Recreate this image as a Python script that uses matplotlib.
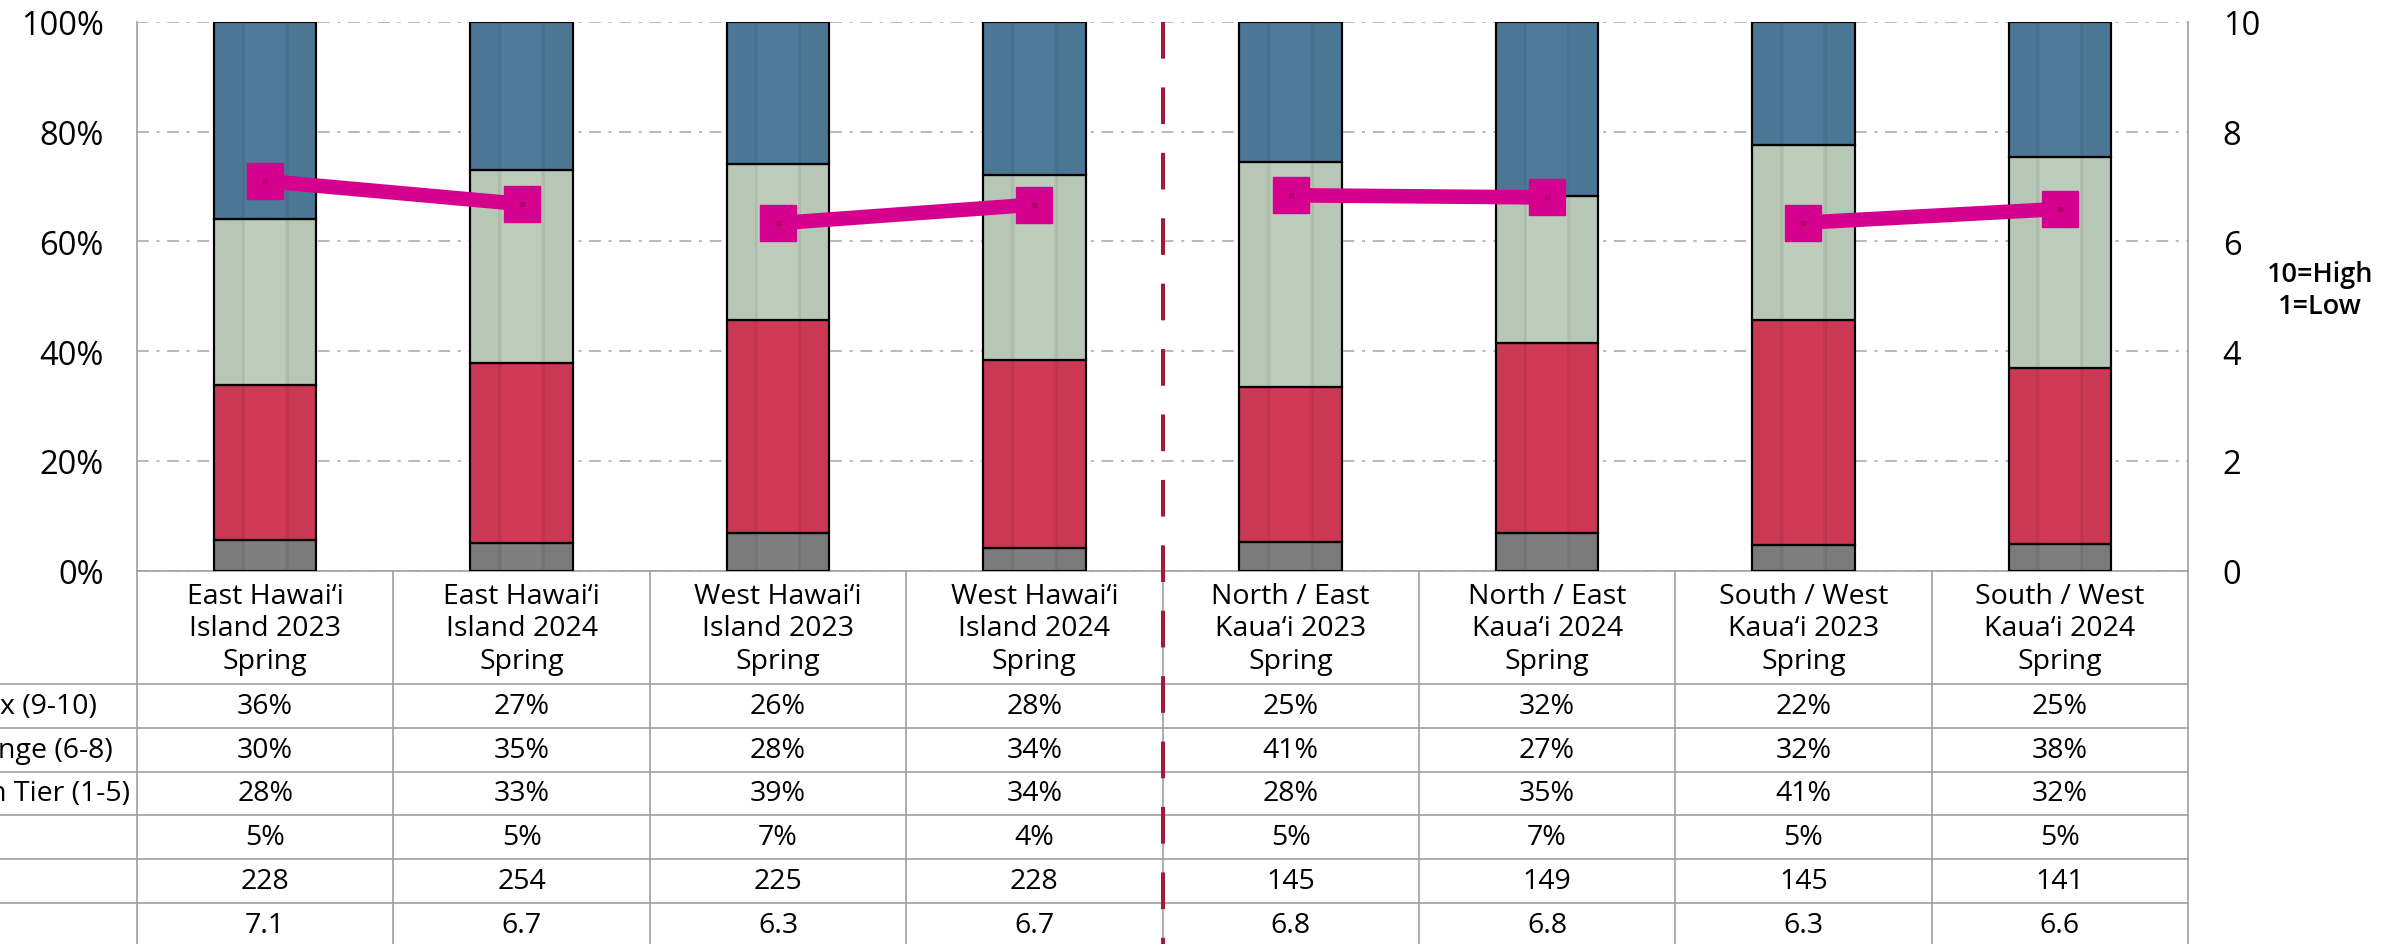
import numpy as np
import matplotlib
matplotlib.use("Agg")
import matplotlib.pyplot as plt
from matplotlib import transforms

plt.rcParams['font.family'] = ['Open Sans', 'DejaVu Sans']
plt.rcParams['lines.scale_dashes'] = False

# categories (table header)
categories = [
    "East Hawai\u2018i\nIsland 2023\nSpring",
    "East Hawai\u2018i\nIsland 2024\nSpring",
    "West Hawai\u2018i\nIsland 2023\nSpring",
    "West Hawai\u2018i\nIsland 2024\nSpring",
    "North / East\nKaua\u2018i 2023\nSpring",
    "North / East\nKaua\u2018i 2024\nSpring",
    "South / West\nKaua\u2018i 2023\nSpring",
    "South / West\nKaua\u2018i 2024\nSpring",
]

# table values (as printed)
top_box = [36, 27, 26, 28, 25, 32, 22, 25]
mid_range = [30, 35, 28, 34, 41, 27, 32, 38]
bottom_tier = [28, 33, 39, 34, 28, 35, 41, 32]
dont_know = [5, 5, 7, 4, 5, 7, 5, 5]
sample_n = [228, 254, 225, 228, 145, 149, 145, 141]
mean_score = [7.10, 6.68, 6.33, 6.67, 6.84, 6.80, 6.34, 6.59]

# only the first three row labels reach into the picture (cut at the left edge)
row_labels = ["Top Box (9-10)", "Mid Range (6-8)", "Bottom Tier (1-5)"]

# bar segment heights (unrounded shares, %)
bar_dk = [5.6, 5.0, 6.8, 4.1, 5.3, 6.8, 4.7, 4.8]
bar_low = [28.3, 32.9, 38.9, 34.3, 28.2, 34.7, 41.0, 32.2]
bar_mid = [30.2, 35.1, 28.4, 33.6, 41.0, 26.7, 31.9, 38.3]
bar_top = [35.9, 27.0, 25.9, 28.0, 25.5, 31.8, 22.4, 24.7]

colors = ['#7F7F7F', '#D13A57', '#BCCEBB', '#4E7B9A']
pink = '#D6008E'
grid_col = '#A6A6A6'
tbl_col = '#A0A0A0'

W, H = 2384, 945
fig = plt.figure(figsize=(W / 100, H / 100), dpi=100)
ax_left, ax_right, ax_top, ax_bot = 137, 2188, 22.8, 571.7
ax = fig.add_axes([ax_left / W, 1 - ax_bot / H, (ax_right - ax_left) / W, (ax_bot - ax_top) / H])

x = np.arange(len(categories))
bw = 0.40
bottom = np.zeros(len(x))
for vals, c in zip([bar_dk, bar_low, bar_mid, bar_top], colors):
    ax.bar(x, vals, bw, bottom=bottom, color=c, edgecolor='black', linewidth=1.5, zorder=3)
    bottom += np.array(vals)

# soft vertical shading inside the bars
for f, w, a in [(0.145, 0.29, 0.03), (0.855, 0.29, 0.03), (0.29, 0.035, 0.06), (0.71, 0.035, 0.06)]:
    ax.bar(x - bw / 2 + bw * f, bottom, bw * w, color='black', alpha=a, linewidth=0, zorder=3.5)
# redraw outlines on top
b2 = np.zeros(len(x))
for vals in [bar_dk, bar_low, bar_mid, bar_top]:
    ax.bar(x, vals, bw, bottom=b2, fill=False, edgecolor='black', linewidth=1.5, zorder=3.6)
    b2 += np.array(vals)

ax.set_xlim(-0.5, len(x) - 0.5)
ax.set_ylim(0, 100)
ax.set_yticks(range(0, 101, 20))
ax.set_yticklabels([f"{v}%" for v in range(0, 101, 20)])
ax.set_xticks([])
ax.yaxis.grid(True, color=grid_col, linewidth=1.1, linestyle=(0, (8.5, 5.5, 2.2, 5.5)))
ax.set_axisbelow(True)
ax.tick_params(axis='y', length=0, labelsize=23.5, pad=24)
for s in ['top', 'right']:
    ax.spines[s].set_visible(False)
for s in ['left', 'bottom']:
    ax.spines[s].set_color(tbl_col)
    ax.spines[s].set_linewidth(1.2)

ax2 = ax.twinx()
ax2.set_ylim(0, 10)
ax2.set_yticks(range(0, 11, 2))
ax2.tick_params(axis='y', length=0, labelsize=23.5, pad=25)
for s in ['top', 'left', 'bottom']:
    ax2.spines[s].set_visible(False)
ax2.spines['right'].set_color(tbl_col)
ax2.spines['right'].set_linewidth(1.2)
for i in range(0, len(x), 2):
    ax2.plot(x[i:i + 2], mean_score[i:i + 2], color=pink, linewidth=10.5, marker='s',
             markersize=26.5, solid_joinstyle='miter', zorder=5)
ax2.plot(x, mean_score, 's', color='#B0006A', markersize=2.5, zorder=6)

# dashed separator between islands
ax.plot([3.5, 3.5], [100, -70], color='#9E1B3C', linewidth=2.9,
        linestyle=(0, (26.4, 20.7)), clip_on=False, zorder=7)

fig.text(2320 / W, 1 - 291 / H, "10=High\n1=Low", ha='center', va='center',
         fontsize=19.5, fontweight='semibold', linespacing=1.15)

# data table below the plot
trans = transforms.blended_transform_factory(ax.transData, fig.transFigure)
hdr_bottom = 685.0
row_h = 43.75
rows_px = [hdr_bottom + k * row_h for k in range(7)]


def fy(px):
    return 1 - px / H


for k in range(len(x) + 1):
    ax.plot([k - 0.5, k - 0.5], [fy(ax_bot), fy(H + 10)], transform=trans, color=tbl_col,
            linewidth=1.2, clip_on=False)
for r in rows_px:
    ax.plot([-3, len(x) - 0.5], [fy(r), fy(r)], transform=trans, color=tbl_col,
            linewidth=1.2, clip_on=False)

for i, cat in enumerate(categories):
    ax.text(i, fy((ax_bot + hdr_bottom) / 2 + 1), cat, transform=trans, ha='center', va='center',
            fontsize=20.5, linespacing=1.2)

row_vals = [
    [f"{v}%" for v in top_box],
    [f"{v}%" for v in mid_range],
    [f"{v}%" for v in bottom_tier],
    [f"{v}%" for v in dont_know],
    [str(v) for v in sample_n],
    [f"{v:.1f}" for v in mean_score],
]
for r, vals in enumerate(row_vals):
    yc = fy(rows_px[r] + row_h / 2)
    for i, v in enumerate(vals):
        ax.text(i, yc, v, transform=trans, ha='center', va='center', fontsize=20.5)

# row labels, left aligned in a column that starts off the canvas
renderer = fig.canvas.get_renderer()
lbls = []
for r, lab in enumerate(row_labels):
    lbls.append(fig.text(0, fy(rows_px[r] + row_h / 2), lab, ha='left', va='center', fontsize=20.5))
w_ref = lbls[2].get_window_extent(renderer).width
x0 = (130 - w_ref) / W
for t in lbls:
    t.set_x(x0)

fig.savefig("out.png", dpi=100)
